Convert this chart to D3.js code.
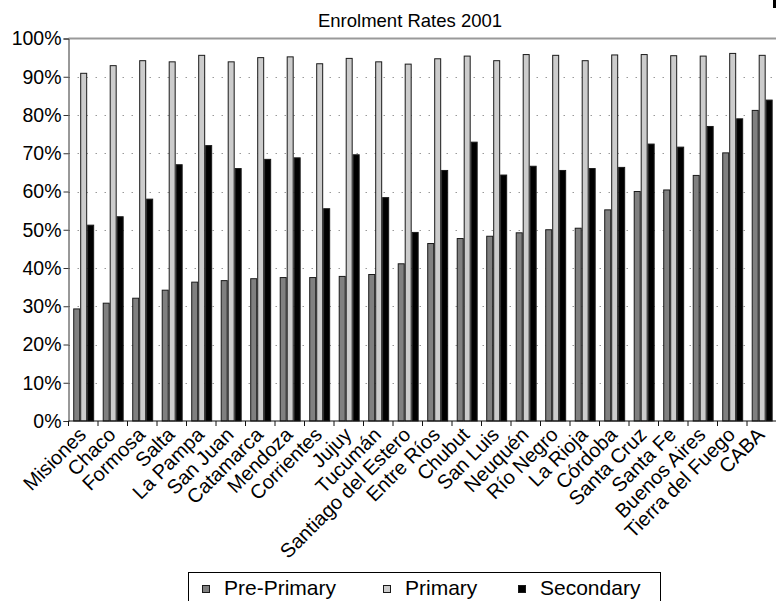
<!DOCTYPE html>
<html>
<head>
<meta charset="utf-8">
<script src="https://cdn.jsdelivr.net/npm/d3@7"></script>
<style>
  html, body { margin: 0; padding: 0; background: #fff; }
  svg { display: block; font-family: "Liberation Sans", Arial, sans-serif; }
</style>
</head>
<body>
<svg id="chart" width="776" height="601"></svg>
<script>
// Provinces, ordered by pre-primary enrolment
const provinces = ["Misiones", "Chaco", "Formosa", "Salta", "La Pampa", "San Juan", "Catamarca",
  "Mendoza", "Corrientes", "Jujuy", "Tucumán", "Santiago del Estero", "Entre Ríos", "Chubut",
  "San Luis", "Neuquén", "Río Negro", "La Rioja", "Córdoba", "Santa Cruz", "Santa Fe",
  "Buenos Aires", "Tierra del Fuego", "CABA"];

// Enrolment rates (%)
const prePrimary = [29.3, 30.8, 32.1, 34.2, 36.3, 36.7, 37.2, 37.5, 37.5, 37.8, 38.3, 41.1,
  46.4, 47.7, 48.3, 49.2, 50.0, 50.4, 55.2, 60.0, 60.4, 64.2, 70.1, 81.2];
const primary = [90.9, 92.9, 94.2, 93.9, 95.6, 93.9, 95.0, 95.2, 93.4, 94.8, 93.9, 93.3,
  94.7, 95.4, 94.2, 95.8, 95.6, 94.2, 95.7, 95.8, 95.5, 95.4, 96.1, 95.6];
const secondary = [51.2, 53.4, 58.0, 67.0, 72.0, 66.0, 68.4, 68.8, 55.5, 69.6, 58.4, 49.3,
  65.5, 72.9, 64.3, 66.6, 65.5, 66.0, 66.3, 72.4, 71.6, 77.0, 79.0, 83.9];

const seriesNames = ["Pre-Primary", "Primary", "Secondary"];
const seriesColors = ["#808080", "#cccccc", "#000000"];
const yTicks = [0, 10, 20, 30, 40, 50, 60, 70, 80, 90, 100];

const seriesValues = [prePrimary, primary, secondary];
const rows = provinces.map((p, i) => ({
  name: p,
  values: seriesValues.map((vals, s) => ({ series: s, value: vals[i] }))
}));

const svg = d3.select("#chart");
const plot = { left: 68.5, right: 776.5, top: 38.5, bottom: 421 };

const x0 = d3.scaleBand().domain(provinces).range([plot.left, plot.right]).padding(0);
const x1 = d3.scaleBand().domain(d3.range(3))
  .range([x0.bandwidth() * 0.16, x0.bandwidth() * 0.87]).padding(0);
const y = d3.scaleLinear().domain([0, 100]).range([plot.bottom, plot.top]);

// Title
svg.append("text")
  .attr("x", 410).attr("y", 27)
  .attr("text-anchor", "middle")
  .attr("font-size", 18.5)
  .attr("fill", "#000")
  .text("Enrolment Rates 2001");

// Dotted gridlines
svg.append("g")
  .selectAll("line")
  .data(yTicks.filter(t => t > 0 && t < 100))
  .join("line")
  .attr("x1", plot.left).attr("x2", plot.right)
  .attr("y1", d => Math.round(y(d)) + 0.5).attr("y2", d => Math.round(y(d)) + 0.5)
  .attr("stroke", "#9a9a9a")
  .attr("stroke-width", 1)
  .attr("stroke-dasharray", "1.5,7.5");

// Top border of the plot area
svg.append("line")
  .attr("x1", plot.left).attr("x2", plot.right)
  .attr("y1", y(100)).attr("y2", y(100))
  .attr("stroke", "#999")
  .attr("stroke-width", 2);

// Bars
const groups = svg.append("g")
  .selectAll("g")
  .data(rows)
  .join("g")
  .attr("transform", d => `translate(${x0(d.name)},0)`);

groups.selectAll("rect")
  .data(d => d.values)
  .join("rect")
  .attr("x", d => x1(d.series) + 0.5)
  .attr("width", x1.bandwidth() - 1)
  .attr("y", d => y(d.value))
  .attr("height", d => y(0) - y(d.value))
  .attr("fill", d => seriesColors[d.series])
  .attr("stroke", "#1a1a1a")
  .attr("stroke-width", 1);

// Y axis
const yAxis = svg.append("g")
  .attr("transform", `translate(${plot.left},0)`)
  .call(d3.axisLeft(y).tickValues(yTicks).tickFormat(d => d + "%").tickSize(5).tickPadding(2));
yAxis.select(".domain").attr("stroke", "#333");
yAxis.selectAll(".tick line").attr("stroke", "#333");
yAxis.selectAll(".tick text")
  .attr("font-size", 19.5)
  .attr("font-family", "Liberation Sans, Arial, sans-serif")
  .attr("fill", "#000");

// X axis: tick marks at category boundaries
const xAxis = svg.append("g");
xAxis.append("line")
  .attr("x1", plot.left).attr("x2", plot.right)
  .attr("y1", plot.bottom).attr("y2", plot.bottom)
  .attr("stroke", "#111");
xAxis.selectAll("line.tk")
  .data(provinces)
  .join("line")
  .attr("class", "tk")
  .attr("x1", d => x0(d)).attr("x2", d => x0(d))
  .attr("y1", plot.bottom).attr("y2", plot.bottom + 5)
  .attr("stroke", "#111");

xAxis.selectAll("text")
  .data(provinces)
  .join("text")
  .attr("transform", d => `translate(${x0(d) + x0.bandwidth() / 2 + 4},${plot.bottom + 15}) rotate(-45)`)
  .attr("text-anchor", "end")
  .attr("font-size", 20)
  .attr("fill", "#000")
  .text(d => d);

// Legend
const legend = svg.append("g");
legend.append("rect")
  .attr("x", 188.5).attr("y", 572.5)
  .attr("width", 472).attr("height", 40)
  .attr("fill", "#fff")
  .attr("stroke", "#000")
  .attr("stroke-width", 1);

const legendX = [202, 383, 518];
const items = legend.selectAll("g.item")
  .data(seriesNames)
  .join("g")
  .attr("class", "item")
  .attr("transform", (d, i) => `translate(${legendX[i]},585)`);
items.append("rect")
  .attr("x", 0.5).attr("y", 0.5)
  .attr("width", 7).attr("height", 7)
  .attr("fill", (d, i) => seriesColors[i])
  .attr("stroke", "#1a1a1a");
items.append("text")
  .attr("x", 22).attr("y", 10)
  .attr("font-size", 21)
  .attr("fill", "#000")
  .text(d => d);

// Edge mark at the top-right corner
svg.append("rect")
  .attr("x", 773).attr("y", 0)
  .attr("width", 3).attr("height", 8)
  .attr("fill", "#000");
</script>
</body>
</html>
